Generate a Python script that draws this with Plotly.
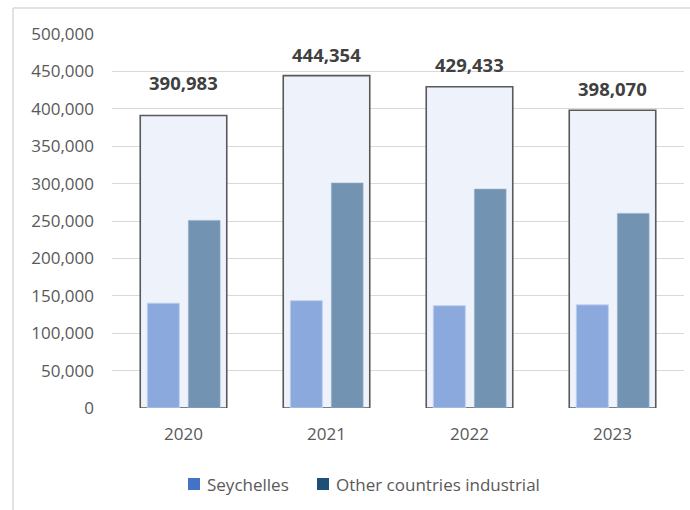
import plotly.graph_objects as go

years = ["2020", "2021", "2022", "2023"]
totals = [390983, 444354, 429433, 398070]
seychelles = [140200, 143500, 136800, 137900]
other_industrial = [250783, 300854, 292633, 260170]
series_names = ["Seychelles", "Other countries industrial"]
y_ticks = [0, 50000, 100000, 150000, 200000, 250000, 300000, 350000, 400000, 450000, 500000]

# layout geometry (pixels)
W, H = 690, 510
L, R, T, B = 112, 684, 34, 408


def px_x(px):
    return (px - L) / (R - L)


def px_y(py):
    return (B - py) / (B - T)


FONT = "Open Sans"
label_shift = [33, 21, 22, 22]

fig = go.Figure()

fig.add_trace(go.Bar(
    x=years, y=totals, width=0.605, offset=-0.3025,
    marker=dict(color="#EEF3FB", line=dict(color="#595959", width=1.6)),
    showlegend=False, hoverinfo="skip",
))
fig.add_trace(go.Bar(
    x=years, y=seychelles, width=0.224, offset=-0.253,
    marker=dict(color="#8BA9DC", line=dict(color="rgba(190,208,238,0.9)", width=1)),
    showlegend=False, name=series_names[0],
))
fig.add_trace(go.Bar(
    x=years, y=other_industrial, width=0.222, offset=0.034,
    marker=dict(color="#7393B3", line=dict(color="rgba(150,175,200,0.6)", width=1)),
    showlegend=False, name=series_names[1],
))

for i, (tot, sh) in enumerate(zip(totals, label_shift)):
    fig.add_annotation(
        x=i, y=tot, text=f"<b>{tot:,}</b>", showarrow=False,
        yanchor="middle", yshift=sh,
        font=dict(family=FONT, size=18.5, color="#404040"),
    )

# manual legend
legend_items = [
    (series_names[0], "#4472C4", 188, 205),
    (series_names[1], "#1F4E79", 317, 334),
]
shapes = []
for name, col, sx, tx in legend_items:
    shapes.append(dict(type="rect", xref="paper", yref="paper",
                       x0=px_x(sx), x1=px_x(sx + 12), y0=px_y(490), y1=px_y(478),
                       fillcolor=col, line=dict(width=0)))
    fig.add_annotation(
        xref="paper", yref="paper", x=px_x(tx), y=px_y(484), text=name,
        showarrow=False, xanchor="left", yanchor="middle",
        font=dict(family=FONT, size=17, color="#595959"),
    )

# chart frame
shapes.append(dict(type="line", xref="paper", yref="paper",
                   x0=px_x(13), x1=px_x(720), y0=px_y(8), y1=px_y(8),
                   line=dict(color="#D9D9D9", width=1.5)))
shapes.append(dict(type="line", xref="paper", yref="paper",
                   x0=px_x(13), x1=px_x(13), y0=px_y(8), y1=px_y(530),
                   line=dict(color="#D9D9D9", width=1.5)))

fig.update_layout(
    width=W, height=H,
    margin=dict(l=L, r=W - R, t=T, b=H - B),
    paper_bgcolor="white", plot_bgcolor="white",
    barmode="overlay",
    showlegend=False,
    shapes=shapes,
    font=dict(family=FONT, size=17, color="#595959"),
    xaxis=dict(type="category", range=[-0.5, len(years) - 0.5],
               showgrid=False, showline=False, ticks="",
               ticklabelstandoff=14,
               tickfont=dict(family=FONT, size=17, color="#595959")),
    yaxis=dict(range=[0, 500000], tickvals=y_ticks, tickformat=",",
               showgrid=True, gridcolor="#D9D9D9", gridwidth=1,
               zeroline=False, showline=False, ticks="", ticklabelstandoff=17,
               tickfont=dict(family=FONT, size=17, color="#595959")),
)

fig.write_html("out.html")
